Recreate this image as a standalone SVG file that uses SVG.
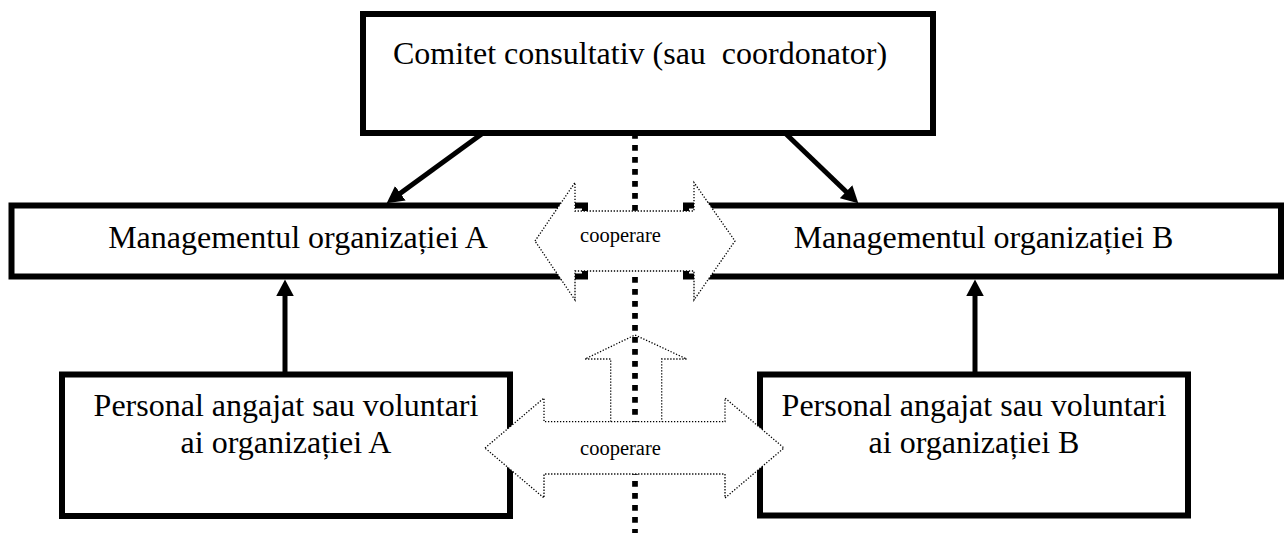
<svg xmlns="http://www.w3.org/2000/svg" width="1286" height="533" viewBox="0 0 1286 533">
<style>
.box{fill:#fff;stroke:#000;stroke-width:6}
.t{font-family:"Liberation Serif","Times New Roman",serif;font-size:32px;fill:#000;text-anchor:middle}
.c{font-family:"Liberation Serif","Times New Roman",serif;font-size:20.5px;fill:#000;text-anchor:middle}
.conn{stroke:#000;stroke-width:5;fill:none}
.dot{fill:#fff;stroke:#000;stroke-width:1.3;stroke-dasharray:1.3 1.7}
</style>
<defs>
<marker id="ah" markerUnits="userSpaceOnUse" markerWidth="18" markerHeight="18" refX="8" refY="8.5" orient="auto" viewBox="0 0 17 17">
<path d="M0,0 L16,8.5 L0,17 z" fill="#000"/>
</marker>
</defs>
<rect width="1286" height="533" fill="#fff"/>
<g id="node-comitet">
<rect class="box" x="363" y="14" width="570" height="119"/>
<text class="t" x="393" y="64" text-anchor="start" style="text-anchor:start" xml:space="preserve">Comitet consultativ (sau  coordonator)</text>
</g>
<g id="node-mgmt-a">
<rect class="box" x="11.5" y="205.5" width="573.5" height="71"/>
<text class="t" x="298" y="248">Managementul organizației A</text>
</g>
<g id="node-mgmt-b">
<rect class="box" x="686" y="205.5" width="595" height="71"/>
<text class="t" x="983.5" y="248">Managementul organizației B</text>
</g>
<g id="node-pers-a">
<rect class="box" x="62" y="374.5" width="448" height="141.5"/>
<text class="t" x="286" y="415.5">Personal angajat sau voluntari</text>
<text class="t" x="286" y="452.5">ai organizației A</text>
</g>
<g id="node-pers-b">
<rect class="box" x="760" y="374.5" width="428" height="141"/>
<text class="t" x="974" y="415.5">Personal angajat sau voluntari</text>
<text class="t" x="974" y="452.5">ai organizației B</text>
</g>
<g id="connectors">
<line class="conn" x1="483" y1="133" x2="393.5" y2="198.3" marker-end="url(#ah)"/>
<line class="conn" x1="785" y1="133" x2="852.2" y2="197.5" marker-end="url(#ah)"/>
<line class="conn" x1="285" y1="372" x2="285" y2="288" marker-end="url(#ah)"/>
<line class="conn" x1="975" y1="372" x2="975" y2="288" marker-end="url(#ah)"/>
<path class="dot" d="M610.7,421.7 L610.7,359 L585,359 L635,335 L686.7,359 L661.7,359 L661.7,421.7"/>
<line x1="635" y1="133" x2="635" y2="533" stroke="#000" stroke-width="5.7" stroke-dasharray="5.7 6.3"/>
<g id="coop-top">
<path class="dot" d="M535,241 L575,182.5 L575,211 L694,211 L694,182.5 L735,241 L694,300 L694,271 L575,271 L575,300 Z"/>
<text class="c" x="620.5" y="241.7">cooperare</text>
</g>
<g id="coop-bottom">
<path class="dot" d="M485,448 L544,398 L544,421.7 L725,421.7 L725,398 L784,448 L725,498 L725,474 L544,474 L544,498 Z"/>
<text class="c" x="620.5" y="455">cooperare</text>
</g>
</g>
</svg>
